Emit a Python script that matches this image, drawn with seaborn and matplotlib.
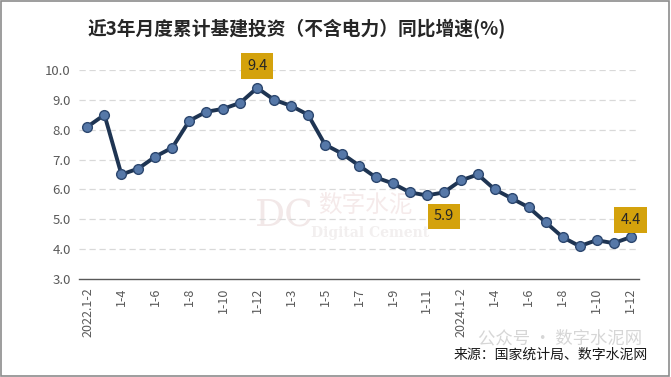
import numpy as np
import pandas as pd
import seaborn as sns
import matplotlib.pyplot as plt
from matplotlib.patches import Rectangle

# 近3年月度累计基建投资（不含电力）同比增速
periods = (["2022." + m for m in ["1-2", "1-3", "1-4", "1-5", "1-6", "1-7", "1-8", "1-9", "1-10", "1-11", "1-12"]]
           + ["2023." + m for m in ["1-2", "1-3", "1-4", "1-5", "1-6", "1-7", "1-8", "1-9", "1-10", "1-11", "1-12"]]
           + ["2024." + m for m in ["1-2", "1-3", "1-4", "1-5", "1-6", "1-7", "1-8", "1-9", "1-10", "1-11", "1-12"]])
growth = [8.1, 8.5, 6.5, 6.7, 7.1, 7.4, 8.3, 8.6, 8.7, 8.9, 9.4,
          9.0, 8.8, 8.5, 7.5, 7.2, 6.8, 6.4, 6.2, 5.9, 5.8, 5.9,
          6.3, 6.5, 6.0, 5.7, 5.4, 4.9, 4.4, 4.1, 4.3, 4.2, 4.4]
tick_labels = ["2022.1-2", "1-4", "1-6", "1-8", "1-10", "1-12", "1-3", "1-5", "1-7",
               "1-9", "1-11", "2024.1-2", "1-4", "1-6", "1-8", "1-10", "1-12"]
labelled = {"2022.1-12": 22, "2023.1-12": -24, "2024.1-12": 17}  # period -> offset px

df = pd.DataFrame({"pos": np.arange(len(periods)), "period": periods, "growth": growth})

sns.set_theme(style="white")
plt.rcParams['font.family'] = ['Noto Sans CJK SC', 'DejaVu Sans']

fig = plt.figure(figsize=(6.71, 3.77), dpi=100)
ax = fig.add_axes([79 / 671, 1 - 279 / 377, 560 / 671, 209 / 377])
ax.set_zorder(2)
ax.patch.set_alpha(0)

sns.lineplot(data=df, x="pos", y="growth", ax=ax, color="#1E3452", linewidth=2.8,
             marker="o", markersize=7, markerfacecolor="#5678A8",
             markeredgecolor="#2C476F", markeredgewidth=1.0, zorder=3)

ax.set_xlim(-0.5, len(periods) - 0.5)
ax.set_ylim(3, 10)
ax.set_yticks(np.arange(3, 10.5, 1))
ax.set_yticklabels([f"{v:.1f}" for v in np.arange(3, 10.5, 1)], color="#595959", fontsize=9.5)
ax.set_xticks(df["pos"][::2])
ax.set_xticklabels(tick_labels, rotation=90, color="#595959", fontsize=9)
ax.tick_params(axis="both", length=0, pad=6)
ax.set_xlabel("")
ax.set_ylabel("")
for v in range(4, 11):
    ax.axhline(v, color="#D9D9D9", linewidth=0.9, linestyle=(0, (5, 3)), zorder=1)
for s in ["top", "right", "left"]:
    ax.spines[s].set_visible(False)
ax.spines["bottom"].set_color("#595959")
ax.spines["bottom"].set_linewidth(1.0)

# data labels
for per, off in labelled.items():
    row = df[df["period"] == per].iloc[0]
    ax.annotate(f"{row.growth:.1f}", (row.pos, row.growth), xytext=(0, off),
                textcoords="offset pixels", ha="center", va="center", fontsize=10.5,
                color="#262626", annotation_clip=False,
                bbox=dict(boxstyle="square,pad=0.4", fc="#D4A20C", ec="none"))

# watermark
fig.text(284 / 671, 1 - 216 / 377, "DC", fontsize=27, color="#F2E8E8", family="DejaVu Serif",
         ha="center", va="center", zorder=0)
fig.text(365 / 671, 1 - 205 / 377, "数字水泥", fontsize=17, color="#F5EAEA",
         ha="center", va="center", zorder=0)
fig.text(370 / 671, 1 - 233 / 377, "Digital Cement", fontsize=10, color="#F2EFEF",
         family="DejaVu Serif", fontweight="bold", ha="center", va="center", zorder=0)

fig.text(88 / 671, 1 - 29 / 377, "近3年月度累计基建投资（不含电力）同比增速(%)", fontsize=13.5,
         fontweight="bold", color="#262626", ha="left", va="center")
fig.text(560 / 671, 1 - 338 / 377, "公众号 · 数字水泥网", fontsize=12.5, color="#D6D6D6",
         ha="center", va="center")
fig.text(648 / 671, 1 - 355 / 377, "来源：国家统计局、数字水泥网", fontsize=10,
         color="#1A1A1A", ha="right", va="center")

fig.patches.append(Rectangle((0.002, 0.003), 0.995, 0.994, transform=fig.transFigure,
                             fill=False, ec="#8C8C8C", lw=1.2))

fig.savefig("out.png", dpi=100)
